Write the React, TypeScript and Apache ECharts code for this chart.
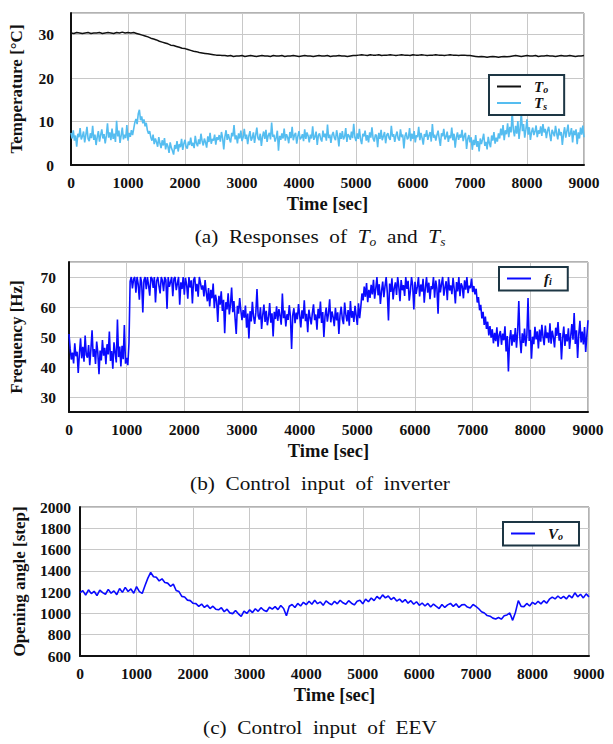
import React, { useEffect, useRef } from 'react';
import * as echarts from 'echarts';

const SERIF = '"Liberation Serif", "Times New Roman", serif';

// time axis
const X_MIN = 0;
const X_MAX = 9000;
const X_STEP = 1000;

// sampling steps (seconds)
const TO_STEP = 50;
const TS_STEP = 20;
const FI_STEP = 20;
const VO_STEP = 50;

// (a) outlet temperature T_o [°C]
const TO_VALUES = [
  30.4, 30.3, 30.5, 30.4, 30.3, 30.4, 30.5, 30.3, 30.4, 30.4, 30.5, 30.3, 30.4, 30.5, 30.4, 30.3, 30.5, 30.4, 30.6, 30.4, 30.5, 30.4, 30.5,
  30.3, 30.1, 29.9, 29.7, 29.5, 29.2, 29.0, 28.8, 28.5, 28.3, 28.1, 27.9, 27.6, 27.5, 27.3, 27.1, 26.9, 26.8, 26.6, 26.4,
  26.2, 26.1, 25.9, 25.8, 25.7, 25.6, 25.5, 25.4, 25.3, 25.3, 25.2, 25.2,
  25.1, 25.2, 25.0, 25.1, 25.1, 25.2, 25.0, 25.1, 25.2, 25.1, 25.0, 25.1, 25.2, 25.1, 25.1, 25.0, 25.2, 25.1, 25.1, 25.2, 25.0, 25.1, 25.1,
  25.2, 25.1, 25.0, 25.1, 25.2, 25.1, 25.1, 25.0, 25.1, 25.2, 25.1, 25.1, 25.2, 25.0, 25.1, 25.1, 25.2, 25.1, 25.1, 25.0, 25.1, 25.2, 25.2,
  25.3, 25.4, 25.3, 25.2, 25.4, 25.3, 25.3, 25.4, 25.2, 25.3, 25.3, 25.4, 25.3, 25.2, 25.3, 25.4, 25.3, 25.3, 25.2, 25.4,
  25.3, 25.3, 25.4, 25.3, 25.2, 25.3, 25.3, 25.4, 25.3, 25.3, 25.2, 25.3, 25.4, 25.3, 25.3, 25.2, 25.3, 25.3, 25.2, 25.2,
  25.1, 25.0, 24.9, 25.0, 24.9, 24.8, 24.9, 25.0, 24.9, 24.8, 24.9, 25.0, 24.9, 25.0,
  25.1, 25.2, 25.1, 25.0, 25.1, 25.2, 25.1, 25.1, 25.2, 25.0, 25.1, 25.1, 25.2, 25.1, 25.1, 25.0, 25.1, 25.2, 25.1, 25.1, 25.2, 25.1, 25.0, 25.1, 25.1, 25.2,
];

// (a) suction temperature T_s [°C]
const TS_VALUES = [
  7.4, 6.1, 8.0, 5.6, 6.8, 4.2, 7.2, 6.4, 8.5, 5.9,
  6.6, 7.7, 5.2, 6.9, 8.8, 6.0, 5.5, 7.3, 6.2, 9.0,
  5.8, 7.0, 4.6, 6.5, 7.8, 5.4, 6.9, 8.2, 6.1, 7.1,
  5.0, 6.7, 9.6, 6.3, 7.5, 5.7, 8.4, 6.0, 7.2, 5.3,
  10.2, 6.6, 7.9, 5.1, 6.8, 8.6, 5.9, 7.0, 6.2, 9.2,
  5.6, 7.4, 6.5, 8.0, 6.9,
  8.3, 9.8, 10.6, 9.4, 11.8, 12.7, 10.3, 11.2, 9.6, 10.5, 8.9, 9.7, 8.0, 7.2, 7.8,
  6.4, 5.6, 7.0, 4.8, 6.1, 5.3, 4.2, 6.4, 5.0, 3.9,
  5.7, 4.5, 6.2, 3.6, 5.0, 4.3, 2.8, 5.2, 4.0, 3.3,
  2.4, 4.6, 3.7, 5.5, 3.1, 4.8, 4.1, 6.0, 3.5, 4.9,
  5.8, 4.2, 3.8, 5.4, 4.6, 6.3, 4.4, 5.1, 3.9, 6.7,
  5.0, 4.3, 5.9, 4.8, 7.2, 5.5, 4.5, 6.1, 5.2, 4.0,
  6.6, 5.3, 7.4, 4.9, 6.0, 5.6, 7.0, 4.7, 6.4, 5.8,
  6.9, 5.4, 7.6, 6.2, 3.6, 6.5, 8.0, 5.8, 7.1, 6.0,
  5.2, 7.4, 6.6, 9.2, 5.9, 6.8, 5.0, 7.3, 6.1, 7.9,
  5.5, 6.4, 8.3, 6.0, 7.0, 4.8, 6.7, 7.8, 5.6, 6.3,
  7.5, 5.1, 6.9, 8.6, 6.2, 5.7, 7.2, 4.4, 6.6, 7.7,
  6.0, 8.1, 5.3, 6.8, 7.4, 5.9, 9.8, 6.5, 7.0, 5.4,
  6.3, 7.9, 3.3, 6.7, 5.8, 7.3, 6.1, 8.4, 5.6, 7.1,
  6.4, 5.0, 7.6, 6.2, 8.8, 5.7, 6.9, 7.4, 4.9, 6.6,
  7.8, 5.9, 6.3, 7.1, 5.5, 8.2, 6.0, 7.5, 6.7, 5.2,
  7.0, 6.1, 8.9, 5.8, 6.5, 7.7, 4.6, 6.8, 7.3, 6.0,
  5.4, 7.9, 6.4, 7.2, 5.6, 9.3, 6.2, 7.0, 5.1, 6.9,
  7.6, 6.3, 5.7, 8.0, 6.6, 4.3, 7.4, 6.0, 7.8, 5.9,
  6.5, 8.5, 5.3, 7.1, 6.7, 5.8, 7.7, 6.2, 9.5, 6.4,
  5.5, 7.3, 6.0, 8.3, 5.9, 4.8, 7.2, 6.6, 7.9, 5.6,
  6.9, 5.2, 7.5, 6.3, 8.7, 6.1, 5.4, 7.0, 6.8, 4.1,
  7.4, 6.0, 8.1, 5.7, 6.6, 7.6, 5.0, 6.9, 7.3, 6.2,
  5.8, 9.0, 6.5, 7.1, 5.3, 6.8, 7.7, 6.1, 5.6, 8.2,
  6.4, 7.0, 3.8, 6.7, 7.5, 5.9, 6.3, 8.5, 5.5, 7.2,
  6.0, 7.8, 5.2, 6.9, 6.4, 8.8, 5.7, 7.4, 6.2, 4.7,
  7.1, 6.5, 8.0, 5.8, 6.8, 7.6, 5.4, 9.4, 6.3, 7.0,
  5.6, 6.9, 7.9, 6.1, 4.4, 7.3, 6.6, 8.3, 5.9, 6.5,
  7.7, 5.3, 6.8, 6.2, 8.6, 5.7, 7.2, 4.0, 6.4, 7.5,
  5.8, 7.0, 6.3, 8.1, 5.5, 6.7, 7.4, 3.7, 6.0, 6.9,
  5.2, 6.4, 3.5, 5.8, 4.6, 6.9, 4.2, 5.5, 3.1, 6.1,
  4.8, 5.9, 7.2, 4.4, 5.3, 3.6, 6.5, 5.0, 4.1, 6.8,
  5.6, 7.6, 4.9, 6.3, 5.4,
  7.3, 6.1, 8.4, 6.8, 9.2, 5.7, 8.0, 7.1, 9.6, 6.4,
  8.8, 7.5, 12.3, 8.1, 6.6, 9.0, 7.2, 10.1, 6.0, 8.5,
  12.0, 7.8, 9.4, 6.3, 8.2, 10.5, 7.0, 8.7, 5.8, 7.6,
  8.6, 6.9, 7.7, 9.1, 6.4, 8.0, 7.2, 8.9, 6.7, 9.4,
  7.5, 8.3, 6.2, 7.9, 8.8, 7.0, 5.5, 8.1, 7.4, 6.6,
  9.0, 7.3, 5.9, 8.4, 6.8, 7.6, 4.6, 7.1, 8.7, 6.3,
  7.8, 9.3, 6.5, 7.2, 8.5, 5.2, 7.9, 6.9, 8.2, 4.8,
  7.5, 6.1, 8.6, 7.0, 9.1, 6.4,
];

// (b) inverter frequency f_i [Hz]
const FI_VALUES = [
  51.0, 46.2, 42.5, 44.8, 41.2, 47.9, 43.6, 45.1, 38.0, 44.3,
  49.6, 42.9, 46.7, 41.8, 50.5, 44.0, 43.1, 47.3, 40.6, 45.9,
  52.2, 43.4, 46.0, 41.0, 48.5, 44.7, 37.6, 45.5, 42.2, 49.0,
  43.8, 46.4, 40.9, 47.6, 44.2, 51.8, 42.0, 45.3, 39.4, 48.2,
  44.9, 41.5, 55.8, 43.3, 46.8, 40.2, 47.1, 42.6, 54.0, 41.1,
  43.0, 40.6,
  48.0, 68.5, 70.0, 66.2, 69.3, 70.0, 64.8, 70.0, 67.6, 62.4,
  70.0, 68.1, 58.2, 69.0, 70.0, 65.9, 70.0, 67.2, 63.8, 70.0,
  69.5, 66.4, 70.0, 61.5, 68.7, 70.0, 67.0, 64.5, 70.0, 68.8,
  65.3, 70.0, 69.1, 59.4, 70.0, 66.7, 68.3, 70.0, 63.6, 69.4,
  70.0, 65.6, 67.9, 70.0, 60.8, 68.2, 66.0, 70.0, 64.1, 69.7,
  67.4, 62.8, 70.0, 66.5, 68.9, 61.2, 69.0, 70.0, 65.2, 67.7,
  63.4, 70.0, 68.0, 65.8,
  67.2, 63.5, 69.0, 64.8, 61.9, 66.3, 60.2, 65.7, 62.9, 67.8,
  59.6, 64.1, 62.0, 55.0, 63.7, 60.8, 65.2, 58.7, 62.4, 51.3,
  61.6, 59.2, 64.6, 57.5, 60.9, 66.5, 58.3, 62.0, 56.2, 51.0,
  60.4, 57.8, 63.0, 58.9, 55.6,
  59.0, 56.4, 60.5, 53.1, 57.8, 49.5, 58.6, 55.2, 61.7, 56.9,
  54.4, 58.2, 66.0, 57.1, 55.8, 59.9, 52.7, 57.4, 60.8, 55.0,
  58.7, 53.9, 56.6, 61.3, 54.8, 57.9, 50.2, 58.4, 56.0, 60.2,
  55.4, 59.3, 57.0, 54.1, 64.5, 56.3, 58.8, 53.5, 57.6, 55.7,
  60.6, 56.8, 46.0, 57.3, 59.6, 54.6, 58.1, 55.9, 61.0, 57.2,
  53.2, 58.9, 56.1, 62.2, 55.3, 57.7, 51.6, 59.1, 56.5, 54.2,
  58.0, 60.9, 55.6, 57.5, 52.4, 59.4, 56.2, 61.8, 54.7, 58.3,
  50.0, 57.0, 59.8, 55.1, 57.9, 62.6, 54.9, 58.5, 56.7, 53.6,
  59.7, 55.5, 58.2, 51.0, 57.4, 60.1, 56.0, 54.3, 61.5, 57.6,
  55.2, 59.0, 53.8, 62.0, 56.4, 58.6, 55.0, 60.4, 57.1, 54.0,
  61.2, 56.3,
  60.0, 64.5, 62.2, 66.8, 63.4, 68.0, 61.6, 65.7, 63.0, 67.4,
  64.2, 69.1, 62.8, 66.1, 70.0, 63.9, 67.6, 61.0, 65.4, 68.5,
  63.3, 66.9, 70.0, 64.7, 55.5, 67.8, 65.0, 69.6, 62.5, 66.3,
  68.2, 64.0, 70.0, 66.6, 61.9, 69.0, 65.6, 67.3, 63.7, 70.0,
  66.0, 68.7, 62.1, 65.3, 70.0, 67.1, 59.2, 68.4, 64.4, 66.7,
  70.0, 63.5, 67.5, 65.1, 69.4, 61.4, 66.4, 70.0, 64.8, 68.1,
  62.6, 67.0, 65.9, 70.0, 63.1, 68.8, 66.2, 57.8, 69.2, 64.9,
  67.7, 70.0, 63.8, 66.5, 68.6, 62.3, 70.0, 65.5, 67.2, 64.3,
  69.7, 66.0, 61.2, 68.3, 65.2, 70.0, 63.6, 67.9, 66.8, 62.9,
  68.9, 65.8, 70.0, 64.6, 67.1, 66.3, 69.5, 65.0,
  67.0, 64.2, 66.1, 61.5, 63.3, 58.9, 60.7, 56.2, 58.4, 54.0, 56.8, 52.7, 55.1, 50.5, 53.6,
  49.8, 52.6, 47.9, 51.4, 48.6, 53.2, 46.8, 50.7, 52.0, 47.4,
  51.1, 48.9, 53.6, 45.2, 50.3, 38.5, 49.0, 52.3, 47.1, 50.9,
  48.3, 53.0, 46.4, 51.7, 62.0, 49.4, 44.6, 51.2, 48.0, 52.8,
  46.9, 50.6, 63.0, 48.7, 52.4, 42.8, 50.1, 47.6, 53.4, 49.2,
  51.9, 46.2, 52.5, 48.4, 54.1, 50.0, 47.3, 53.8, 49.6, 51.5,
  48.1, 54.6, 47.8, 52.1, 49.9, 46.5, 53.1, 50.4, 55.0, 48.8,
  51.3, 42.5, 49.7, 53.5, 47.0, 51.0, 48.5, 52.9, 46.0, 50.2,
  54.3, 49.1, 58.0, 47.7, 52.2, 43.0, 50.8, 55.4, 48.2, 51.8,
  47.5, 53.3, 45.0, 50.5, 55.6,
];

// (c) EEV opening angle V_o [step]
const VO_VALUES = [
  1195, 1215, 1172, 1222, 1186, 1208, 1168, 1218, 1195, 1180, 1226, 1190, 1212, 1176, 1234, 1198, 1245, 1206, 1230, 1190, 1252, 1205,
  1188, 1262, 1332,
  1385, 1345, 1340, 1305, 1325, 1290, 1285, 1255, 1275, 1215, 1205, 1160, 1155, 1125, 1120, 1095,
  1092, 1066, 1088, 1056, 1078, 1046, 1068, 1040, 1034, 1054, 1016, 1040, 1005, 998, 1028, 996, 972, 1022, 1000, 1034,
  1008, 1044, 1020, 1054, 1030, 1018, 1058, 1040, 1064, 1036, 1074, 1046, 978, 1068, 1084, 1056, 1094, 1070, 1104, 1082,
  1114, 1086, 1124, 1092, 1108, 1076, 1118, 1096, 1082, 1114, 1090, 1124, 1100, 1086, 1120, 1096, 1080, 1114, 1124, 1090, 1134, 1110, 1145, 1120, 1160, 1136,
  1174, 1146, 1164, 1130, 1150, 1116, 1134, 1106, 1130, 1096, 1120, 1086, 1110, 1076,
  1098, 1070, 1094, 1060, 1088, 1066, 1046, 1084, 1056, 1080, 1094, 1066, 1090, 1056, 1080, 1084, 1060, 1052, 1084, 1066,
  1044, 1016, 1004, 980, 974, 956, 948, 962, 946, 978, 986, 1004, 935, 1012, 1120, 1066,
  1064, 1094, 1070, 1104, 1086, 1114, 1090, 1120, 1096, 1134, 1154, 1136, 1164, 1140, 1160, 1136, 1170, 1146, 1194, 1156, 1180, 1146, 1184, 1156,
];

// y-axis ranges
const Y1 = { min: 0, max: 35, interval: 10 };
const Y2 = { min: 25, max: 75, splitNumber: 5 };
const Y3 = { min: 600, max: 2000, interval: 200 };

const TITLES = {
  y1: 'Temperature [°C]',
  y2: 'Frequency [Hz]',
  y3: 'Opening angle [step]',
  x: 'Time [sec]',
};

const COLORS = {
  To: '#111111',
  Ts: '#55bdf0',
  fi: '#0a0aff',
  Vo: '#0a0aff',
};

const toPairs = (vals: number[], step: number) => vals.map((v, i) => [i * step, v]);

const axisLabelFont = {
  fontFamily: SERIF,
  fontWeight: 'bold' as const,
  fontSize: 15.5,
  color: '#111',
};
const nameFont = {
  fontFamily: SERIF,
  fontWeight: 'bold' as const,
  fontSize: 17,
  color: '#111',
};

function makeX(gridIndex: number) {
  return {
    type: 'value',
    gridIndex,
    min: X_MIN,
    max: X_MAX,
    interval: X_STEP,
    axisLine: { show: true, onZero: false, lineStyle: { color: '#111', width: 2 } },
    axisTick: { show: false },
    axisLabel: { ...axisLabelFont, margin: 9, formatter: (v: number) => String(v) },
    splitLine: { show: true, lineStyle: { color: '#c8c8c8', width: 1 } },
    name: TITLES.x,
    nameLocation: 'middle',
    nameGap: 29,
    nameTextStyle: { ...nameFont, fontSize: 18.5 },
  };
}

function makeY(gridIndex: number, range: any, name: string, labelMargin: number, nameGap: number, hideMax: boolean, hideMin: boolean) {
  return {
    type: 'value',
    gridIndex,
    ...range,
    axisLine: { show: true, onZero: false, lineStyle: { color: '#111', width: 2 } },
    axisTick: { show: false },
    axisLabel: {
      ...axisLabelFont,
      margin: labelMargin,
      formatter: (v: number) => String(v),
      showMaxLabel: hideMax ? false : undefined,
      showMinLabel: hideMin ? false : undefined,
    },
    splitLine: { show: true, lineStyle: { color: '#c8c8c8', width: 1 } },
    name,
    nameLocation: 'middle',
    nameGap,
    nameTextStyle: nameFont,
  };
}

const legendRich = {
  m: { fontFamily: SERIF, fontWeight: 'bold', fontStyle: 'italic', fontSize: 15, lineHeight: 16, color: '#111' },
  s: { fontFamily: SERIF, fontWeight: 'bold', fontStyle: 'italic', fontSize: 10, lineHeight: 10, verticalAlign: 'bottom', color: '#111' },
};

function makeLegend(names: string[], left: number, top: number, width: number) {
  return {
    data: names,
    orient: 'vertical',
    left,
    top,
    width,
    icon: 'rect',
    itemWidth: 24,
    itemHeight: 2,
    itemGap: 1,
    padding: [4, 16, 4, 8],
    borderColor: '#1d3644',
    borderWidth: 2,
    backgroundColor: '#ffffff',
    formatter: (n: string) => `{m|${n[0]}}{s|${n.slice(1)}}`,
    textStyle: { rich: legendRich, padding: [0, 0, 0, 8] },
  };
}

const captionRich = {
  i: { fontFamily: SERIF, fontStyle: 'italic', fontSize: 19, lineHeight: 24, fill: '#111' },
  s: { fontFamily: SERIF, fontStyle: 'italic', fontSize: 12, lineHeight: 12, verticalAlign: 'bottom', fill: '#111' },
};

function caption(text: string, y: number) {
  return {
    type: 'text',
    x: 320,
    y,
    scaleX: 1.12,
    style: {
      text,
      rich: captionRich,
      fontFamily: SERIF,
      fontSize: 19,
      lineHeight: 24,
      fill: '#111',
      textAlign: 'center',
      textVerticalAlign: 'middle',
    },
  };
}

export default function App() {
  const ref = useRef<HTMLDivElement>(null);
  useEffect(() => {
    document.body.style.margin = '0';
    if (!ref.current) return;
    const chart = echarts.init(ref.current, undefined, { renderer: 'svg' });
    const gridBase = { show: true, borderColor: '#666', borderWidth: 1, backgroundColor: '#fff', containLabel: false };
    chart.setOption({
      animation: false,
      backgroundColor: '#ffffff',
      grid: [
        { ...gridBase, left: 71, right: 29, top: 13, height: 152 },
        { ...gridBase, left: 69, right: 25, top: 262, height: 150 },
        { ...gridBase, left: 80, right: 24, top: 507, height: 149 },
      ],
      xAxis: [makeX(0), makeX(1), makeX(2)],
      yAxis: [
        makeY(0, Y1, TITLES.y1, 17, 46, true, false),
        makeY(1, Y2, TITLES.y2, 13, 44, true, true),
        makeY(2, Y3, TITLES.y3, 9, 52, false, false),
      ],
      legend: [
        makeLegend(['To', 'Ts'], 489, 75, 74),
        makeLegend(['fi'], 499, 267, 74),
        makeLegend(['Vo'], 503, 522, 73),
      ],
      series: [
        { name: 'To', type: 'line', xAxisIndex: 0, yAxisIndex: 0, symbol: 'none', color: COLORS.To, lineStyle: { width: 1.5, color: COLORS.To }, data: toPairs(TO_VALUES, TO_STEP) },
        { name: 'Ts', type: 'line', xAxisIndex: 0, yAxisIndex: 0, symbol: 'none', color: COLORS.Ts, lineStyle: { width: 1.6, color: COLORS.Ts }, data: toPairs(TS_VALUES, TS_STEP) },
        { name: 'fi', type: 'line', xAxisIndex: 1, yAxisIndex: 1, symbol: 'none', color: COLORS.fi, lineStyle: { width: 1.6, color: COLORS.fi }, data: toPairs(FI_VALUES, FI_STEP) },
        { name: 'Vo', type: 'line', xAxisIndex: 2, yAxisIndex: 2, symbol: 'none', color: COLORS.Vo, lineStyle: { width: 1.6, color: COLORS.Vo }, data: toPairs(VO_VALUES, VO_STEP) },
      ],
      graphic: [
        caption('(a)  Responses  of  {i|T}{s|o}  and  {i|T}{s|s}', 236),
        caption('(b)  Control  input  of  inverter', 483),
        caption('(c)  Control  input  of  EEV', 727),
      ],
    });
    return () => chart.dispose();
  }, []);
  return <div ref={ref} style={{ width: 613, height: 744 }} />;
}
